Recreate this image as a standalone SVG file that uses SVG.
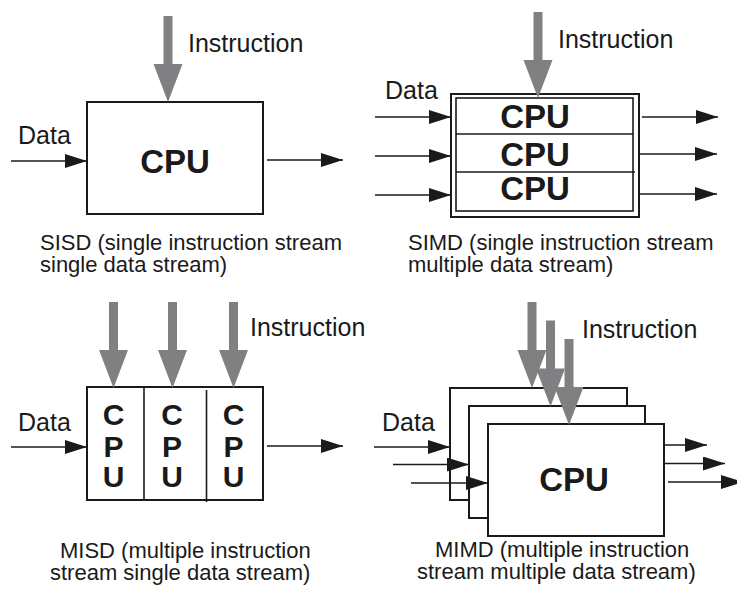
<svg xmlns="http://www.w3.org/2000/svg" xmlns:xlink="http://www.w3.org/1999/xlink" width="737" height="590" viewBox="0 0 737 590">
<style>
  .box { fill: #ffffff; stroke: #1a1a1a; stroke-width: 2; }
  .thin { fill: none; stroke: #1a1a1a; stroke-width: 1.6; }
  .flow { fill: none; stroke: #1a1a1a; stroke-width: 1.6; marker-end: url(#ah); }
  .lbl { font-family: "Liberation Sans", Arial, sans-serif; font-size: 25px; fill: #1a1a1a; }
  .cap { font-family: "Liberation Sans", Arial, sans-serif; font-size: 22px; fill: #1a1a1a; }
  .cpu { font-family: "Liberation Sans", Arial, sans-serif; font-size: 33px; font-weight: bold; fill: #1a1a1a; text-anchor: middle; }
  .cpuv { font-family: "Liberation Sans", Arial, sans-serif; font-size: 30px; font-weight: bold; fill: #1a1a1a; text-anchor: middle; }
  .instr { fill: #808083; }
</style>
<defs>
  <marker id="ah" markerWidth="22" markerHeight="14" refX="22" refY="7" orient="auto" markerUnits="userSpaceOnUse">
    <path d="M0,0 L22,7 L0,14 z" fill="#1a1a1a"/>
  </marker>
  <path id="garrow" class="instr" d="M-4.5,-86 H4.5 V-38 H14.5 L0,0 L-14.5,-38 H-4.5 z"/>
</defs>
<rect width="737" height="590" fill="#ffffff"/>

<g id="sisd">
  <rect class="box" x="87" y="102" width="176" height="112"/>
  <text class="cpu" x="175" y="173">CPU</text>
  <text class="lbl" x="188" y="52">Instruction</text>
  <text class="lbl" x="18" y="144">Data</text>
  <text class="cap" x="40" y="250">SISD (single instruction stream</text>
  <text class="cap" x="40" y="272">single data stream)</text>
</g>

<g id="simd">
  <rect class="box" x="451" y="94" width="188" height="123"/>
  <rect class="box" x="456" y="98" width="177" height="113" style="stroke-width:1.6"/>
  <line class="thin" x1="456" y1="134" x2="633" y2="134"/>
  <line class="thin" x1="456" y1="172" x2="635" y2="172"/>
  <text class="cpu" x="535" y="128">CPU</text>
  <text class="cpu" x="535" y="166">CPU</text>
  <text class="cpu" x="535" y="200">CPU</text>
  <text class="lbl" x="558" y="48">Instruction</text>
  <text class="lbl" x="385" y="99">Data</text>
  <text class="cap" x="408" y="250">SIMD (single instruction stream</text>
  <text class="cap" x="408" y="272">multiple data stream)</text>
</g>

<g id="misd">
  <rect class="box" x="87" y="387" width="176" height="113"/>
  <line class="thin" x1="144" y1="387" x2="144" y2="500"/>
  <line class="thin" x1="206.5" y1="390" x2="206.5" y2="502"/>
  <text class="cpuv" x="113.5" y="425">C</text>
  <text class="cpuv" x="113.5" y="456.5">P</text>
  <text class="cpuv" x="113.5" y="487">U</text>
  <text class="cpuv" x="172" y="425">C</text>
  <text class="cpuv" x="172" y="456.5">P</text>
  <text class="cpuv" x="172" y="487">U</text>
  <text class="cpuv" x="233.5" y="425">C</text>
  <text class="cpuv" x="233.5" y="456.5">P</text>
  <text class="cpuv" x="233.5" y="487">U</text>
  <text class="lbl" x="250" y="336">Instruction</text>
  <text class="lbl" x="18" y="431">Data</text>
  <text class="cap" x="60" y="558">MISD (multiple instruction</text>
  <text class="cap" x="50" y="580">stream single data stream)</text>
</g>

<g id="mimd">
  <rect class="box" x="450" y="388" width="177" height="112"/>
  <rect class="box" x="469" y="406" width="176" height="112"/>
  <rect class="box" x="488" y="424" width="176" height="112"/>
  <text class="cpu" x="574" y="491">CPU</text>
  <text class="lbl" x="582" y="338">Instruction</text>
  <text class="lbl" x="382" y="431">Data</text>
  <text class="cap" x="435" y="557">MIMD (multiple instruction</text>
  <text class="cap" x="417" y="579">stream multiple data stream)</text>
</g>

<g id="connectors">
  <use xlink:href="#garrow" href="#garrow" x="168" y="102"/>
  <line class="flow" x1="11" y1="161" x2="87" y2="161"/>
  <line class="flow" x1="267" y1="160" x2="343" y2="160"/>

  <use xlink:href="#garrow" href="#garrow" x="538" y="98"/>
  <line class="flow" x1="375" y1="117" x2="451" y2="117"/>
  <line class="flow" x1="375" y1="156" x2="451" y2="156"/>
  <line class="flow" x1="375" y1="195" x2="451" y2="195"/>
  <line class="flow" x1="642" y1="117" x2="718" y2="117"/>
  <line class="flow" x1="640" y1="154" x2="717" y2="154"/>
  <line class="flow" x1="640" y1="194" x2="717" y2="194"/>

  <use xlink:href="#garrow" href="#garrow" x="113.5" y="388"/>
  <use xlink:href="#garrow" href="#garrow" x="172.5" y="388"/>
  <use xlink:href="#garrow" href="#garrow" x="233.5" y="388"/>
  <line class="flow" x1="11" y1="447" x2="87" y2="447"/>
  <line class="flow" x1="267" y1="446" x2="343" y2="446"/>

  <use xlink:href="#garrow" href="#garrow" x="532" y="388"/>
  <use xlink:href="#garrow" href="#garrow" x="550.5" y="406.5"/>
  <use xlink:href="#garrow" href="#garrow" x="569" y="425"/>
  <line class="flow" x1="374" y1="447" x2="450" y2="447"/>
  <line class="flow" x1="393" y1="464.5" x2="469" y2="464.5"/>
  <line class="flow" x1="411" y1="483" x2="488" y2="483"/>
  <line class="flow" x1="664" y1="445" x2="707" y2="445"/>
  <line class="flow" x1="664" y1="463.5" x2="725" y2="463.5"/>
  <line class="flow" x1="668" y1="482" x2="743" y2="482"/>
</g>
</svg>
